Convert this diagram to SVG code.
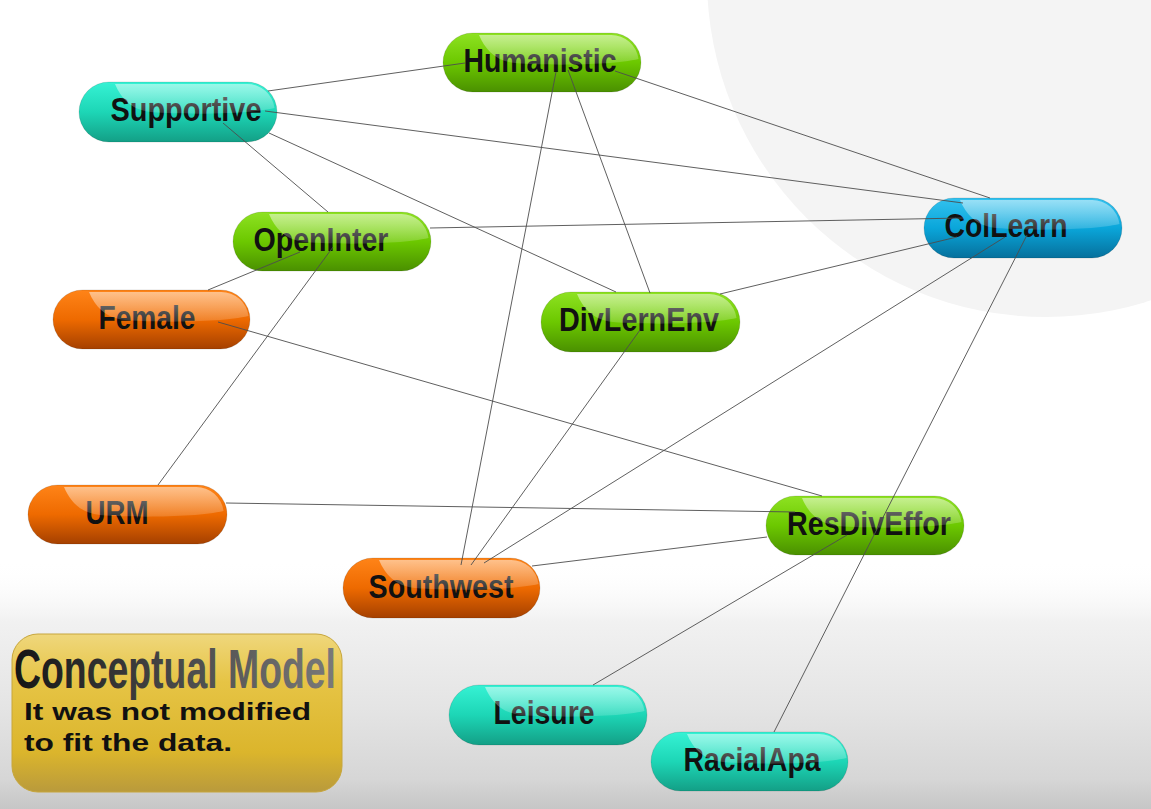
<svg xmlns="http://www.w3.org/2000/svg" width="1151" height="809" viewBox="0 0 1151 809">
<defs>
<linearGradient id="bgBottom" x1="0" y1="560" x2="0" y2="809" gradientUnits="userSpaceOnUse">
<stop offset="0" stop-color="#ffffff" stop-opacity="0"/>
<stop offset="0.25" stop-color="#f1f1f1"/>
<stop offset="0.6" stop-color="#e4e4e4"/>
<stop offset="0.88" stop-color="#d6d6d6"/>
<stop offset="1" stop-color="#c6c6c6"/>
</linearGradient>
<linearGradient id="gGreen" x1="0" y1="0" x2="0" y2="1">
<stop offset="0" stop-color="#8ee222"/>
<stop offset="0.5" stop-color="#6cc800"/>
<stop offset="1" stop-color="#4a9000"/>
</linearGradient>
<linearGradient id="gCyan" x1="0" y1="0" x2="0" y2="1">
<stop offset="0" stop-color="#36f2d4"/>
<stop offset="0.5" stop-color="#1dd6b6"/>
<stop offset="1" stop-color="#139f86"/>
</linearGradient>
<linearGradient id="gBlue" x1="0" y1="0" x2="0" y2="1">
<stop offset="0" stop-color="#33c2ef"/>
<stop offset="0.5" stop-color="#0aa6da"/>
<stop offset="1" stop-color="#06709c"/>
</linearGradient>
<linearGradient id="gOrange" x1="0" y1="0" x2="0" y2="1">
<stop offset="0" stop-color="#ff8418"/>
<stop offset="0.5" stop-color="#ee6a00"/>
<stop offset="1" stop-color="#a54000"/>
</linearGradient>
<linearGradient id="glossGrad" x1="0" y1="0" x2="0" y2="1">
<stop offset="0" stop-color="#ffffff" stop-opacity="0.5"/>
<stop offset="1" stop-color="#ffffff" stop-opacity="0.15"/>
</linearGradient>
<linearGradient id="gGold" x1="0" y1="0" x2="0" y2="1">
<stop offset="0" stop-color="#efd77c"/>
<stop offset="0.3" stop-color="#e6c445"/>
<stop offset="0.75" stop-color="#dbb52c"/>
<stop offset="1" stop-color="#b99a3c"/>
</linearGradient>
<linearGradient id="gTitle" x1="14" y1="0" x2="336" y2="0" gradientUnits="userSpaceOnUse">
<stop offset="0" stop-color="#151515"/>
<stop offset="1" stop-color="#7a7a7a"/>
</linearGradient>
<path id="gloss" d="M 36 2 L 168 2 A 27.5 27.5 0 0 1 195.5 26 C 170 32 110 33 72 30 C 52 28 42 16 36 2 Z"/>
<style>
.pill { stroke: #000; stroke-opacity: 0.12; stroke-width: 1; }
.green { fill: url(#gGreen); }
.cyan { fill: url(#gCyan); }
.blue { fill: url(#gBlue); }
.orange { fill: url(#gOrange); }
.gl { fill: url(#glossGrad); }
.lbl { font-family: "Liberation Sans", Arial, sans-serif; font-weight: bold; font-size: 33px; fill: #111; text-anchor: middle; }
.edge { stroke: #4d4d4d; stroke-width: 0.9; fill: none; }
.note { font-family: "Liberation Sans", Arial, sans-serif; font-weight: bold; font-size: 24px; fill: #111; }
</style>
</defs>

<g id="background">
<rect x="0" y="0" width="1151" height="809" fill="#ffffff"/>
<circle cx="1046" cy="-22" r="339" fill="#f4f4f4"/>
<rect x="0" y="560" width="1151" height="249" fill="url(#bgBottom)"/>
</g>

<g id="node-humanistic">
<rect class="pill green" x="443" y="33" width="198" height="59" rx="29.5"/>
<text class="lbl" x="540" y="72" textLength="153" lengthAdjust="spacingAndGlyphs">Humanistic</text>
<use href="#gloss" class="gl" x="443" y="33"/>
</g>
<g id="node-supportive">
<rect class="pill cyan" x="79" y="82" width="198" height="60" rx="30"/>
<text class="lbl" x="186" y="121" textLength="151" lengthAdjust="spacingAndGlyphs">Supportive</text>
<use href="#gloss" class="gl" x="79" y="82"/>
</g>
<g id="node-openinter">
<rect class="pill green" x="233" y="212" width="198" height="59" rx="29.5"/>
<text class="lbl" x="321" y="251" textLength="135" lengthAdjust="spacingAndGlyphs">OpenInter</text>
<use href="#gloss" class="gl" x="233" y="212"/>
</g>
<g id="node-female">
<rect class="pill orange" x="53" y="290" width="197" height="59" rx="29.5"/>
<text class="lbl" x="147" y="329" textLength="97" lengthAdjust="spacingAndGlyphs">Female</text>
<use href="#gloss" class="gl" x="53" y="290"/>
</g>
<g id="node-divlernenv">
<rect class="pill green" x="541" y="292" width="199" height="60" rx="30"/>
<text class="lbl" x="639" y="331" textLength="160" lengthAdjust="spacingAndGlyphs">DivLernEnv</text>
<use href="#gloss" class="gl" x="541" y="292"/>
</g>
<g id="node-collearn">
<rect class="pill blue" x="924" y="198" width="198" height="60" rx="30"/>
<text class="lbl" x="1006" y="237" textLength="123" lengthAdjust="spacingAndGlyphs">ColLearn</text>
<use href="#gloss" class="gl" x="924" y="198"/>
</g>
<g id="node-urm">
<rect class="pill orange" x="28" y="485" width="199" height="59" rx="29.5"/>
<text class="lbl" x="117" y="524" textLength="63" lengthAdjust="spacingAndGlyphs">URM</text>
<use href="#gloss" class="gl" x="28" y="485"/>
</g>
<g id="node-resdiveffor">
<rect class="pill green" x="766" y="496" width="198" height="59" rx="29.5"/>
<text class="lbl" x="869" y="535" textLength="164" lengthAdjust="spacingAndGlyphs">ResDivEffor</text>
<use href="#gloss" class="gl" x="766" y="496"/>
</g>
<g id="node-southwest">
<rect class="pill orange" x="343" y="558" width="197" height="60" rx="30"/>
<text class="lbl" x="441" y="598" textLength="145" lengthAdjust="spacingAndGlyphs">Southwest</text>
<use href="#gloss" class="gl" x="343" y="558"/>
</g>
<g id="node-leisure">
<rect class="pill cyan" x="449" y="685" width="198" height="60" rx="30"/>
<text class="lbl" x="544" y="724" textLength="101" lengthAdjust="spacingAndGlyphs">Leisure</text>
<use href="#gloss" class="gl" x="449" y="685"/>
</g>
<g id="node-racialapa">
<rect class="pill cyan" x="651" y="732" width="197" height="59" rx="29.5"/>
<text class="lbl" x="752" y="771" textLength="137" lengthAdjust="spacingAndGlyphs">RacialApa</text>
<use href="#gloss" class="gl" x="651" y="732"/>
</g>

<g id="connectors">
<line class="edge" x1="268" y1="91" x2="465" y2="63"/>
<line class="edge" x1="615" y1="71" x2="990" y2="198"/>
<line class="edge" x1="265" y1="111" x2="963" y2="203"/>
<line class="edge" x1="223" y1="123" x2="328" y2="212"/>
<line class="edge" x1="269" y1="133" x2="616" y2="292"/>
<line class="edge" x1="556" y1="72" x2="461" y2="565"/>
<line class="edge" x1="568" y1="70" x2="650" y2="293"/>
<line class="edge" x1="430" y1="228" x2="963" y2="218"/>
<line class="edge" x1="300" y1="252" x2="208" y2="290"/>
<line class="edge" x1="333" y1="247" x2="158" y2="485"/>
<line class="edge" x1="218" y1="322" x2="822" y2="496"/>
<line class="edge" x1="720" y1="294" x2="957" y2="237"/>
<line class="edge" x1="640" y1="330" x2="471" y2="565"/>
<line class="edge" x1="1005" y1="237" x2="484" y2="563"/>
<line class="edge" x1="1027" y1="235" x2="873" y2="537"/>
<line class="edge" x1="873" y1="537" x2="774" y2="732"/>
<line class="edge" x1="226" y1="503" x2="795" y2="512"/>
<line class="edge" x1="532" y1="566" x2="767" y2="537"/>
<line class="edge" x1="593" y1="685" x2="847" y2="535"/>
</g>

<g id="note-conceptual-model">
<rect x="12" y="634" width="330" height="158" rx="26" fill="url(#gGold)" stroke="#c7a63c" stroke-width="1"/>
<text x="14" y="688" font-family="'Liberation Sans', Arial, sans-serif" font-weight="bold" font-size="56" fill="url(#gTitle)" textLength="322" lengthAdjust="spacingAndGlyphs">Conceptual Model</text>
<text class="note" x="24" y="720" textLength="287" lengthAdjust="spacingAndGlyphs">It was not modified</text>
<text class="note" x="24" y="751" textLength="208" lengthAdjust="spacingAndGlyphs">to fit the data.</text>
</g>
</svg>
